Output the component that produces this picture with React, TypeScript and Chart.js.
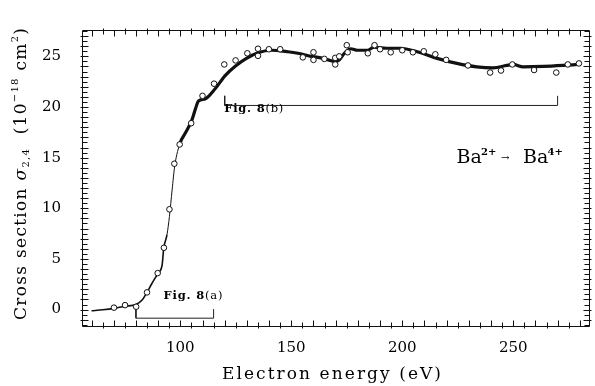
import React, { useEffect, useRef } from 'react';
import { Chart, registerables } from 'chart.js';

Chart.register(...registerables);

const SERIF = '"DejaVu Serif", "Liberation Serif", serif';

// Smoothed measured cross section (electron energy in eV, sigma in 1e-18 cm^2)
const curveEnergy = [60, 65, 70, 75, 80, 83, 85, 87, 90, 91.8, 92.5, 94, 95.1, 96.3, 97.5, 100, 102.2, 105.2, 106.8, 108.2, 111.2, 115.7, 120.2, 124.6, 129.8, 135, 141, 148.5, 153, 158.9, 162.1, 166.6, 169.4, 171.6, 173.9, 176.8, 179.8, 184.3, 187.3, 193, 199.3, 206.7, 215.7, 224.6, 233.6, 241.1, 247, 250, 254.5, 263.5, 272.4, 279.1];
const curveSigma = [-0.12, -0.02, 0.12, 0.33, 0.5, 1.0, 1.7, 2.5, 3.6, 4.4, 6.0, 7.4, 9.2, 11.8, 14.2, 16.5, 17.4, 18.7, 19.8, 20.6, 20.8, 21.8, 23.1, 24.0, 24.8, 25.35, 25.6, 25.45, 25.3, 25.0, 24.9, 24.65, 24.5, 24.65, 25.3, 25.75, 25.6, 25.6, 25.9, 25.8, 25.8, 25.45, 24.8, 24.3, 23.96, 23.87, 24.1, 24.2, 23.96, 24.0, 24.1, 24.2];

// Absolute measurements (open circles)
const pointEnergy = [70.1, 75.1, 80.1, 85, 89.8, 92.6, 95.1, 97.3, 99.7, 104.9, 110, 115.2, 119.8, 124.9, 130.2, 135, 135, 139.9, 145, 155.2, 160, 160, 164.9, 169.8, 169.8, 171.6, 175, 175.4, 184.5, 187.5, 190, 194.8, 200, 204.8, 209.7, 214.9, 219.8, 229.6, 239.6, 244.5, 249.6, 259.4, 269.4, 274.6, 279.6];
const pointSigma = [0.19, 0.44, 0.28, 1.7, 3.6, 6.1, 9.9, 14.4, 16.3, 18.4, 21.1, 22.3, 24.2, 24.6, 25.3, 25.75, 25.05, 25.7, 25.7, 24.9, 25.4, 24.65, 24.75, 24.85, 24.2, 25.0, 26.1, 25.4, 25.3, 26.1, 25.7, 25.4, 25.6, 25.4, 25.5, 25.2, 24.65, 24.1, 23.4, 23.6, 24.2, 23.65, 23.4, 24.2, 24.3];

// Energy ranges shown in Fig. 8(a) and Fig. 8(b)
const bracketAEnergy = [80, 80, 115, 115];
const bracketASigma = [0.05, -0.85, -0.85, 0.05];
const bracketBEnergy = [120, 120, 270, 270];
const bracketBSigma = [21.1, 20.15, 20.15, 21.1];

const xTickValues = [100, 150, 200, 250];
const yTickValues = [0, 5, 10, 15, 20, 25];
const xMin = 55.7;
const xMax = 284.6;
const yMin = -1.72;
const yMax = 27.6;

const toPoints = (xs: number[], ys: number[]) => xs.map((x, i) => ({ x, y: ys[i] }));

type Run = { text: string; size: number; weight?: string; style?: string; dy?: number };

const fontOf = (r: Run) => `${r.style || 'normal'} ${r.weight || 'normal'} ${r.size}px ${SERIF}`;

// Draws a sequence of styled text runs starting at (x, y) along the current baseline,
// spreading letters so the whole string spans `width` pixels.
function drawRuns(ctx: CanvasRenderingContext2D, runs: Run[], x: number, y: number, width?: number) {
  const c: any = ctx;
  c.letterSpacing = '0px';
  let natural = 0;
  let count = 0;
  const widths = runs.map((r) => {
    ctx.font = fontOf(r);
    const w = ctx.measureText(r.text).width;
    natural += w;
    count += Array.from(r.text).length;
    return w;
  });
  const spacing = width ? (width - natural) / Math.max(1, count - 1) : 0;
  let cx = x;
  runs.forEach((r, i) => {
    ctx.font = fontOf(r);
    c.letterSpacing = `${spacing}px`;
    ctx.fillText(r.text, cx, y + (r.dy || 0));
    cx += widths[i] + spacing * Array.from(r.text).length;
  });
  c.letterSpacing = '0px';
}

const framePlugin = {
  id: 'frameTicksText',
  afterDatasetsDraw(chart: any) {
    const { ctx, chartArea: a, scales } = chart;
    const x = scales.x;
    const y = scales.y;
    const left = Math.round(a.left) + 0.5;
    const right = Math.round(a.right) - 0.5;
    const top = Math.round(a.top) + 0.5;
    const bottom = Math.round(a.bottom) - 0.5;
    ctx.save();
    ctx.strokeStyle = '#111';
    ctx.fillStyle = '#000';
    ctx.lineWidth = 1;
    ctx.beginPath();
    ctx.rect(left, top, right - left, bottom - top);
    ctx.stroke();

    ctx.beginPath();
    // tick marks every 5 eV on bottom and top
    for (let v = 60; v <= xMax; v += 5) {
      const px = Math.round(x.getPixelForValue(v)) + 0.5;
      const major = v % 10 === 0;
      const len = major ? 6 : 4;
      const out = major ? 0 : 2;
      ctx.moveTo(px, bottom + out);
      ctx.lineTo(px, bottom - len);
      ctx.moveTo(px, top - out);
      ctx.lineTo(px, top + len);
    }
    // tick marks every 0.5 on left and right
    for (let v = -1.5; v <= yMax; v += 0.5) {
      const py = Math.round(y.getPixelForValue(v)) + 0.5;
      const major = Math.abs(v - Math.round(v)) < 1e-6;
      const len = major ? 6 : 5;
      const out = major ? 2 : 0;
      ctx.moveTo(left - out, py);
      ctx.lineTo(left + len, py);
      ctx.moveTo(right + out, py);
      ctx.lineTo(right - len, py);
    }
    ctx.stroke();

    ctx.textBaseline = 'alphabetic';
    ctx.textAlign = 'left';

    // bracket captions
    drawRuns(ctx, [
      { text: 'Fig.', size: 11.5, weight: 'bold' },
      { text: ' 8', size: 11.5, weight: 'bold' },
      { text: '(a)', size: 11.5 },
    ], x.getPixelForValue(92.4), 299, 59);
    drawRuns(ctx, [
      { text: 'Fig.', size: 11.5, weight: 'bold' },
      { text: ' 8', size: 11.5, weight: 'bold' },
      { text: '(b)', size: 11.5 },
    ], x.getPixelForValue(119.8), 112, 59);

    // reaction label
    drawRuns(ctx, [{ text: 'Ba', size: 19 }], 456.5, 162.5);
    drawRuns(ctx, [{ text: '2+', size: 10, weight: 'bold' }], 481, 155);
    drawRuns(ctx, [{ text: '→', size: 10 }], 501, 161);
    drawRuns(ctx, [{ text: 'Ba', size: 19 }], 523, 162.5);
    drawRuns(ctx, [{ text: '4+', size: 10, weight: 'bold' }], 547.5, 155);

    // x-axis title
    drawRuns(ctx, [{ text: 'Electron energy (eV)', size: 17 }], 222, 378.5, 219);

    // y-axis title, rotated
    ctx.translate(26, 320);
    ctx.rotate(-Math.PI / 2);
    drawRuns(ctx, [
      { text: 'Cross section ', size: 17 },
      { text: 'σ', size: 17, style: 'italic' },
      { text: '2,4', size: 10, dy: 3 },
      { text: '  (10', size: 17 },
      { text: '−18', size: 10, dy: -8 },
      { text: ' cm', size: 17 },
      { text: '2', size: 10, dy: -8 },
      { text: ')', size: 17 },
    ], 0, 0, 292);
    ctx.restore();
  },
};

export default function App() {
  const canvasRef = useRef<HTMLCanvasElement | null>(null);

  useEffect(() => {
    if (!canvasRef.current) return;
    const lineEnergy = curveEnergy;
    const chart = new Chart(canvasRef.current, {
      type: 'line',
      data: {
        datasets: [
          {
            data: toPoints(curveEnergy, curveSigma),
            borderColor: '#111',
            borderWidth: 3,
            pointRadius: 0,
            cubicInterpolationMode: 'monotone',
            segment: {
              borderWidth: (c: any) => {
                const e = lineEnergy[c.p0DataIndex];
                if (e >= 99) return 3.2;
                if (e >= 94) return 1;
                return 1.6;
              },
            },
            order: 2,
          } as any,
          {
            data: toPoints(pointEnergy, pointSigma),
            showLine: false,
            pointStyle: 'circle',
            pointRadius: 2.8,
            pointBorderWidth: 1,
            pointBorderColor: '#111',
            pointBackgroundColor: '#fff',
            order: 1,
          },
          {
            data: toPoints(bracketAEnergy, bracketASigma),
            borderColor: '#222',
            borderWidth: 1,
            pointRadius: 0,
            tension: 0,
            order: 3,
          },
          {
            data: toPoints(bracketBEnergy, bracketBSigma),
            borderColor: '#222',
            borderWidth: 1,
            pointRadius: 0,
            tension: 0,
            order: 3,
          },
        ],
      },
      options: {
        animation: false,
        responsive: false,
        devicePixelRatio: 1,
        layout: { padding: { top: 15, right: 1.5, left: 0, bottom: 0 } },
        plugins: { legend: { display: false }, tooltip: { enabled: false } },
        scales: {
          x: {
            type: 'linear',
            min: xMin,
            max: xMax,
            afterBuildTicks: (s: any) => {
              s.ticks = xTickValues.map((value) => ({ value }));
            },
            afterFit: (s: any) => {
              s.height = 59;
            },
            grid: { display: false, drawTicks: false },
            border: { display: false },
            ticks: {
              color: '#000',
              font: { family: SERIF, size: 15 },
              padding: 12,
              maxRotation: 0,
              autoSkip: false,
            },
          },
          y: {
            type: 'linear',
            min: yMin,
            max: yMax,
            afterBuildTicks: (s: any) => {
              s.ticks = yTickValues.map((value) => ({ value }));
            },
            afterFit: (s: any) => {
              s.width = 82;
            },
            grid: { display: false, drawTicks: false },
            border: { display: false },
            ticks: {
              color: '#000',
              font: { family: SERIF, size: 15 },
              padding: 21,
              autoSkip: false,
            },
          },
        },
      },
      plugins: [framePlugin],
    });
    return () => chart.destroy();
  }, []);

  return (
    <div style={{ position: 'absolute', left: 0, top: 0, width: 595, height: 386, background: '#fff' }}>
      <canvas ref={canvasRef} width={595} height={386} style={{ width: 595, height: 386, display: 'block' }} />
    </div>
  );
}
